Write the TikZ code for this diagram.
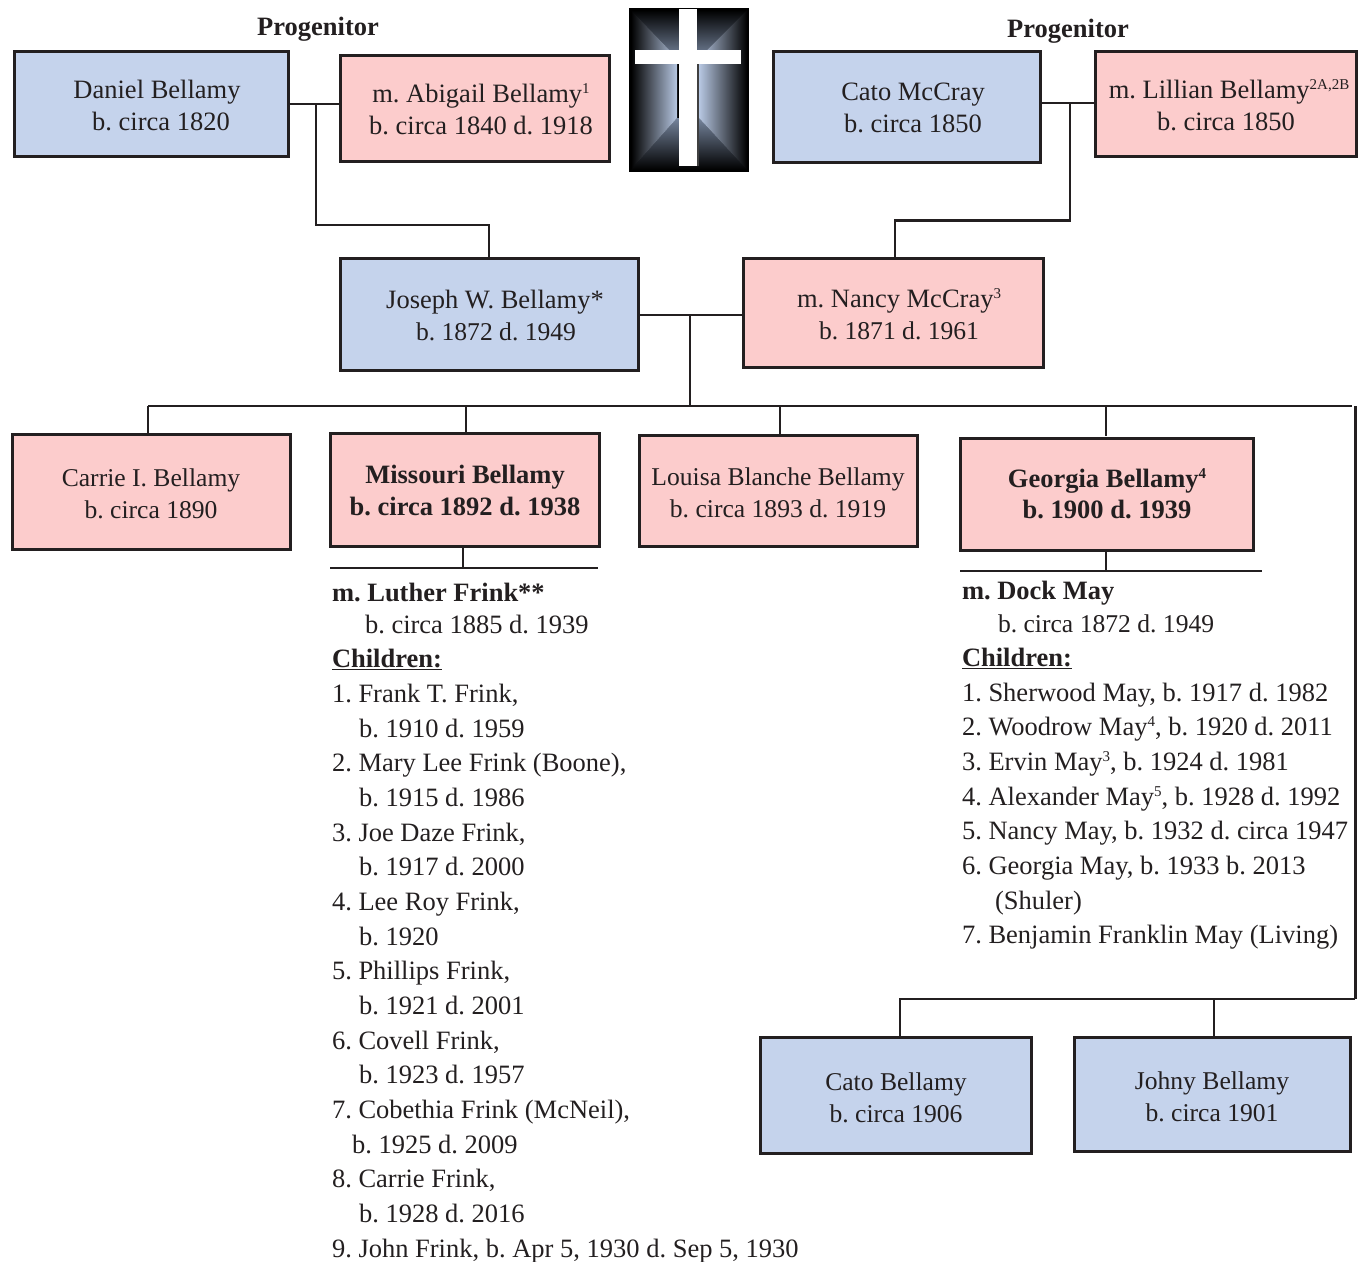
\documentclass[tikz,border=0pt]{standalone}
\usepackage{fontspec}
\setmainfont{Liberation Serif}
\definecolor{ink}{HTML}{231F20}
\definecolor{bluebox}{HTML}{C5D3EC}
\definecolor{pinkbox}{HTML}{FCCCCC}
\definecolor{glow}{HTML}{BFD0EC}
\definecolor{glowdim}{HTML}{75849C}
\tikzset{
  person/.style={draw=ink,line width=3pt,inner sep=0pt,outer sep=0pt},
  male/.style={person,fill=bluebox},
  female/.style={person,fill=pinkbox},
  link/.style={draw=ink,line width=2.8pt},
  txt/.style={inner sep=0pt,outer sep=0pt,text=ink,font=\fontsize{26.5}{32}\selectfont},
}
\newcommand{\pbox}[5]{\node[#1,minimum width=(#4-1)*1pt,minimum height=(#5-1)*1pt,xshift=-0.5pt,yshift=0.5pt] (#2) at (#3) {};}
\newcommand{\ctext}[4]{\node[txt,anchor=base] (#1) at (#2,#3) {\frenchspacing #4};}
\newcommand{\ltext}[4]{\node[txt,anchor=base west] (#1) at (#2,#3) {\frenchspacing #4};}
\newcommand{\sups}[1]{\raisebox{8.5pt}{\fontsize{15}{15}\selectfont #1}}
\newcommand{\tight}{\fontsize{25.6}{32}\selectfont}
\begin{document}
\begin{tikzpicture}[x=1pt,y=-1pt]
\useasboundingbox (0,0) rectangle (1359,1261);
% cross picture
\fill[black] (629,8) rectangle (749,172);
\begin{scope}
\clip (629,8) -- (749,8) -- (699,58) -- (677,58) -- cycle;
\shade[top color=black,bottom color=glowdim] (629,10) rectangle (749,58);
\end{scope}
\begin{scope}
\clip (629,172) -- (749,172) -- (699,118) -- (677,118) -- cycle;
\shade[top color=glowdim,bottom color=black] (629,118) rectangle (749,170);
\end{scope}
\begin{scope}
\clip (629,8) -- (677,58) -- (677,118) -- (629,172) -- cycle;
\shade[left color=black,right color=glow] (631,8) rectangle (679,172);
\end{scope}
\begin{scope}
\clip (749,8) -- (699,58) -- (699,118) -- (749,172) -- cycle;
\shade[left color=glow,right color=black] (697,8) rectangle (747,172);
\end{scope}
\fill[black!75] (697,64) rectangle (698.5,166);
\fill[white] (679,9) rectangle (697,166);
\fill[white] (635,50) rectangle (741,64);
% boxes
\pbox{male}{daniel}{151.5,104}{275}{106}
\pbox{female}{abigail}{475,108.5}{270}{107}
\pbox{male}{catomc}{907,107}{268}{112}
\pbox{female}{lillian}{1226,104}{262}{106}
\pbox{male}{joseph}{489.5,314.5}{299}{113}
\pbox{female}{nancy}{893.5,313}{301}{110}
\pbox{female}{carrie}{151.5,492}{279}{116}
\pbox{female}{missouri}{465,490}{270}{114}
\pbox{female}{louisa}{778.5,491}{279}{112}
\pbox{female}{georgia}{1107,494.5}{294}{113}
\pbox{male}{catob}{896,1095.5}{272}{117}
\pbox{male}{johny}{1212.5,1094.5}{277}{115}
% junctions
\coordinate (j1) at (316,104);
\coordinate (j1b) at (316,225);
\coordinate (j1c) at (489,225);
\coordinate (j2) at (1070,103);
\coordinate (j2b) at (1070,220.5);
\coordinate (j2c) at (895,220.5);
\coordinate (j3) at (690,315);
\coordinate (bar) at (690,406);
\coordinate (barL) at (148,406);
\coordinate (barR) at (1352,406);
\coordinate (sideT) at (1355,406);
\coordinate (sideB) at (1355,999);
\coordinate (lowL) at (900,999);
\coordinate (mL) at (330,568);
\coordinate (mR) at (598,568);
\coordinate (gL) at (960,571);
\coordinate (gR) at (1262,571);
% connectors
\draw[link] (daniel.east |- j1) -- (abigail.west |- j1);
\draw[link] (j1) -- (j1b) -- (j1c) -- (j1c |- joseph.north);
\draw[link] (catomc.east |- j2) -- (lillian.west |- j2);
\draw[link] (j2) -- (j2b) -- (j2c) -- (j2c |- nancy.north);
\draw[link] (joseph.east |- j3) -- (nancy.west |- j3);
\draw[link] (j3) -- (bar);
\draw[link] (barL) -- (barR);
\draw[link] (barL) -- (barL |- carrie.north);
\draw[link] (466,406) -- (466,433);
\draw[link] (780,406) -- (780,435);
\draw[link] (1106,406) -- (1106,436);
\draw[link,line width=3pt] (sideT) -- (sideB);
\draw[link] (sideB) -- (lowL) -- (lowL |- catob.north);
\draw[link] (1214,999) -- (1214,1037);
\draw[link,line width=2pt] (463,547) -- (463,568);
\draw[link] (mL) -- (mR);
\draw[link,line width=2pt] (1106,551) -- (1106,571);
\draw[link] (gL) -- (gR);
% headings
\ctext{progL}{318}{35}{\textbf{Progenitor}}
\ctext{progR}{1068}{37}{\textbf{Progenitor}}
% box texts
\ctext{t1}{157}{98}{Daniel Bellamy}
\ctext{t2}{161}{130}{b. circa 1820}
\ctext{t3}{481}{102}{m. Abigail Bellamy\sups{1}}
\ctext{t4}{481}{134}{b. circa 1840 d. 1918}
\ctext{t5}{913}{100}{Cato McCray}
\ctext{t6}{913}{132}{b. circa 1850}
\ctext{t7}{1229}{98}{m. Lillian Bellamy\sups{2A,2B}}
\ctext{t8}{1226}{130}{b. circa 1850}
\ctext{t9}{495}{308}{Joseph W. Bellamy*}
\ctext{t10}{496}{340}{\tight b. 1872 d. 1949}
\ctext{t11}{899}{307}{m. Nancy McCray\sups{3}}
\ctext{t12}{899}{339}{\tight b. 1871 d. 1961}
\ctext{t13}{151}{486}{\tight Carrie I. Bellamy}
\ctext{t14}{151}{518}{\tight b. circa 1890}
\ctext{t15}{465}{483}{\textbf{Missouri Bellamy}}
\ctext{t16}{465}{515}{\textbf{b. circa 1892 d. 1938}}
\ctext{t17}{778}{485}{\tight Louisa Blanche Bellamy}
\ctext{t18}{778}{517}{\tight b. circa 1893 d. 1919}
\ctext{t19}{1107}{487}{\textbf{Georgia Bellamy\sups{4}}}
\ctext{t20}{1107}{518}{\textbf{b. 1900 d. 1939}}
\ctext{t21}{896}{1090}{\tight Cato Bellamy}
\ctext{t22}{896}{1122}{\tight b. circa 1906}
\ctext{t23}{1212}{1089}{\tight Johny Bellamy}
\ctext{t24}{1212}{1121}{\tight b. circa 1901}
% Missouri list
\ltext{a1}{332}{601}{\textbf{m. Luther Frink**}}
\ltext{a2}{365}{633}{b. circa 1885 d. 1939}
\ltext{a3}{332}{667}{\textbf{\underline{Children:}}}
\ltext{a4}{332}{702}{1. Frank T. Frink,}
\ltext{a5}{359}{737}{b. 1910 d. 1959}
\ltext{a6}{332}{771}{2. Mary Lee Frink (Boone),}
\ltext{a7}{359}{806}{b. 1915 d. 1986}
\ltext{a8}{332}{841}{3. Joe Daze Frink,}
\ltext{a9}{359}{875}{b. 1917 d. 2000}
\ltext{a10}{332}{910}{4. Lee Roy Frink,}
\ltext{a11}{359}{945}{b. 1920}
\ltext{a12}{332}{979}{5. Phillips Frink,}
\ltext{a13}{359}{1014}{b. 1921 d. 2001}
\ltext{a14}{332}{1049}{6. Covell Frink,}
\ltext{a15}{359}{1083}{b. 1923 d. 1957}
\ltext{a16}{332}{1118}{7. Cobethia Frink (McNeil),}
\ltext{a17}{352}{1153}{b. 1925 d. 2009}
\ltext{a18}{332}{1187}{8. Carrie Frink,}
\ltext{a19}{359}{1222}{b. 1928 d. 2016}
\ltext{a20}{332}{1257}{9. John Frink, b. Apr 5, 1930 d. Sep 5, 1930}
% Georgia list
\ltext{b1}{962}{599}{\textbf{m. Dock May}}
\ltext{b2}{998}{632}{\tight b. circa 1872 d. 1949}
\ltext{b3}{962}{666}{\textbf{\underline{Children:}}}
\ltext{b4}{962}{701}{1. Sherwood May, b. 1917 d. 1982}
\ltext{b5}{962}{735}{2. Woodrow May\sups{4}, b. 1920 d. 2011}
\ltext{b6}{962}{770}{3. Ervin May\sups{3}, b. 1924 d. 1981}
\ltext{b7}{962}{805}{4. Alexander May\sups{5}, b. 1928 d. 1992}
\ltext{b8}{962}{839}{5. Nancy May, b. 1932 d. circa 1947}
\ltext{b9}{962}{874}{6. Georgia May, b. 1933 b. 2013}
\ltext{b10}{995}{909}{(Shuler)}
\ltext{b11}{962}{943}{7. Benjamin Franklin May (Living)}
\end{tikzpicture}
\end{document}
